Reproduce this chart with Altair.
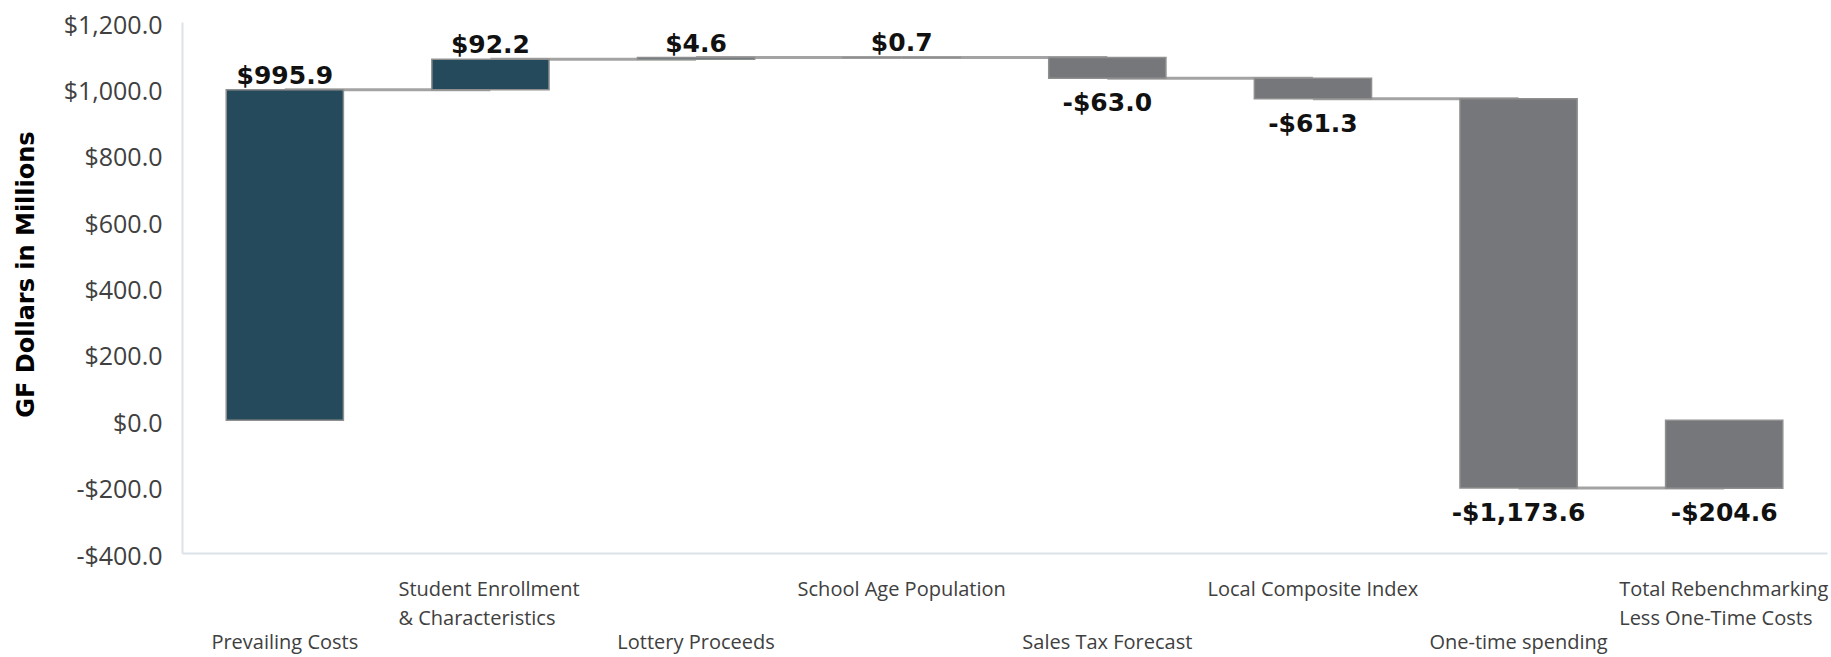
import altair as alt
import pandas as pd

# ---------------- data ----------------
categories = [
    "Prevailing Costs",
    "Student Enrollment & Characteristics",
    "Lottery Proceeds",
    "School Age Population",
    "Sales Tax Forecast",
    "Local Composite Index",
    "One-time spending",
    "Total Rebenchmarking Less One-Time Costs",
]
changes = [995.9, 92.2, 4.6, 0.7, -63.0, -61.3, -1173.6, -204.6]
kinds = ["up", "up", "up", "up", "down", "down", "down", "total"]
label_lines = [
    ["Prevailing Costs"],
    ["Student Enrollment", "& Characteristics"],
    ["Lottery Proceeds"],
    ["School Age Population"],
    ["Sales Tax Forecast"],
    ["Local Composite Index"],
    ["One-time spending"],
    ["Total Rebenchmarking", "Less One-Time Costs"],
]
label_row = ["low", "high", "low", "high", "low", "high", "low", "high"]
y_ticks = [-400, -200, 0, 200, 400, 600, 800, 1000, 1200]

TEAL = "#244a5b"
GRAY = "#76777b"

# ---------------- waterfall table ----------------
rows = []
running = 0.0
for cat, v, k in zip(categories, changes, kinds):
    if k == "total":
        start, end = 0.0, v
    else:
        start, end = running, running + v
        running = end
    txt = ("-" if v < 0 else "") + "$" + f"{abs(v):,.1f}"
    rows.append(dict(
        category=cat, start=start, end=end,
        color=TEAL if k == "up" else GRAY,
        sign="pos" if v >= 0 else "neg",
        label_y=max(start, end) if v >= 0 else min(start, end),
        text=txt,
    ))
df = pd.DataFrame(rows)

conn = pd.DataFrame([
    dict(category=rows[i]["category"], next=rows[i + 1]["category"], level=rows[i]["end"])
    for i in range(len(rows) - 1)
])

# ---------------- axes ----------------
def js_str(s):
    return "'" + s.replace("'", "\\'") + "'"

label_expr = "datum.value"
for cat, lines in reversed(list(zip(categories, label_lines))):
    arr = "[" + ", ".join(js_str(l) for l in lines) + "]"
    label_expr = f"datum.value == {js_str(cat)} ? {arr} : ({label_expr})"

low_test = " || ".join(f"datum.value == {js_str(c)}" for c, r in zip(categories, label_row) if r == "low")

x_scale = alt.Scale(domain=categories, paddingInner=0.43, paddingOuter=0.215)
x_axis = alt.Axis(
    title=None, ticks=False, tickSize=0, grid=False,
    labelExpr=label_expr, labelAngle=0,
    labelAlign={
        "condition": {"test": f"datum.value == {js_str(categories[1])} || datum.value == {js_str(categories[7])}",
                      "value": "left"},
        "value": "center",
    },
    labelOffset={
        "condition": [
            {"test": f"datum.value == {js_str(categories[1])}", "value": -92},
            {"test": f"datum.value == {js_str(categories[7])}", "value": -105},
        ],
        "value": 0,
    },
    labelPadding={"condition": {"test": low_test, "value": 95}, "value": 42},
    labelBaseline="alphabetic", labelLineHeight=29,
    labelFont="Open Sans", labelFontSize=20, labelColor="#404040",
    labelLimit=0, labelOverlap=False, labelBound=False,
    domainColor="#dbe3e9", domainWidth=2,
)

y_scale = alt.Scale(domain=[-400, 1200], nice=False, zero=False)
y_axis = alt.Axis(
    values=y_ticks, ticks=False, tickSize=0, grid=False,
    labelExpr="(datum.value < 0 ? '-' : '') + '$' + format(abs(datum.value), ',.1f')",
    labelFont="Open Sans", labelFontSize=25, labelColor="#404040",
    labelPadding=20, labelOffset=3,
    title="GF Dollars in Millions", titleFont="DejaVu Sans", titleFontWeight="bold",
    titleFontSize=24, titleColor="#000000", titleAngle=270, titleBaseline="alphabetic",
    titleAlign="center", titleX=-149, titleY=252,
    domainColor="#dbe3e9", domainWidth=2,
)

base = alt.Chart(df)

connectors = alt.Chart(conn).mark_rule(color="#a3a3a3", strokeWidth=3).encode(
    x=alt.X("category:N", scale=x_scale, axis=x_axis),
    x2="next:N",
    y=alt.Y("level:Q", scale=y_scale, axis=y_axis),
)

bars = base.mark_bar(stroke="#8f8f8f", strokeWidth=1.5).encode(
    x=alt.X("category:N", scale=x_scale, axis=x_axis),
    y=alt.Y("start:Q", scale=y_scale, axis=y_axis),
    y2="end:Q",
    color=alt.Color("color:N", scale=None),
)

text_pos = base.transform_filter("datum.sign == 'pos'").mark_text(
    font="DejaVu Sans", fontWeight="bold", fontSize=25, color="#111111",
    baseline="alphabetic", align="center", dy=-6,
).encode(
    x=alt.X("category:N", scale=x_scale, axis=x_axis),
    y=alt.Y("label_y:Q", scale=y_scale, axis=y_axis),
    text="text:N",
)

text_neg = base.transform_filter("datum.sign == 'neg'").mark_text(
    font="DejaVu Sans", fontWeight="bold", fontSize=25, color="#111111",
    baseline="alphabetic", align="center", dy=33,
).encode(
    x=alt.X("category:N", scale=x_scale, axis=x_axis),
    y=alt.Y("label_y:Q", scale=y_scale, axis=y_axis),
    text="text:N",
)

chart = alt.layer(connectors, bars, text_pos, text_neg).properties(
    width=1645, height=531,
    autosize=alt.AutoSizeParams(type="none"),
    padding={"left": 182, "top": 22, "right": 4, "bottom": 104},
    background="white",
).configure_view(stroke=None)

chart.save("out.html", embed_options={"renderer": "svg", "actions": False})
